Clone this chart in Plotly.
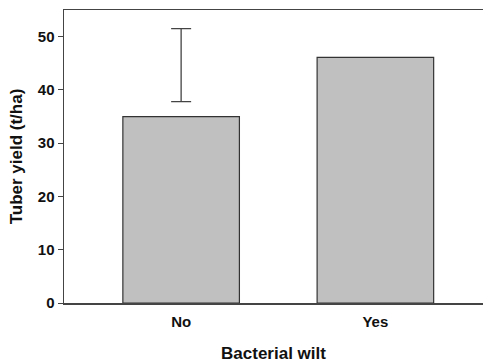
import plotly.graph_objects as go

categories = ["No", "Yes"]
yield_values = [35.0, 46.1]
err_low = [37.8]
err_high = [51.5]
err_cat = ["No"]
y_ticks = [0, 10, 20, 30, 40, 50]

FONT = "Liberation Sans, Arial, sans-serif"
AX = "#444444"

fig = go.Figure()
fig.add_trace(go.Bar(
    x=[0, 1], y=yield_values, width=0.6,
    marker=dict(color="#c0c0c0", line=dict(color="#333333", width=1.2)),
    showlegend=False, hoverinfo="skip",
))
mid = [(lo + hi) / 2 for lo, hi in zip(err_low, err_high)]
half = [(hi - lo) / 2 for lo, hi in zip(err_low, err_high)]
fig.add_trace(go.Scatter(
    x=[categories.index(c) for c in err_cat], y=mid, mode="markers",
    marker=dict(size=1, color="rgba(0,0,0,0)"),
    error_y=dict(type="data", array=half, symmetric=True, color=AX, thickness=1.3, width=10),
    showlegend=False, hoverinfo="skip",
))

fig.update_layout(
    width=484, height=363,
    margin=dict(l=63.5, r=1, t=9.5, b=60.3, autoexpand=False),
    plot_bgcolor="white", paper_bgcolor="white",
    font=dict(family=FONT, color="#111111"),
    bargap=0.4,
)
fig.update_xaxes(
    range=[-0.603, 1.554], tickvals=[0, 1], ticktext=categories,
    showline=True, linecolor=AX, linewidth=1.5, mirror=True,
    ticks="", ticklabelstandoff=4, showgrid=False, zeroline=False,
    tickfont=dict(family=FONT, size=15, weight="bold"),
    title=dict(text="<b>Bacterial wilt</b>", font=dict(family=FONT, size=17), standoff=19),
    automargin=False,
)
fig.update_yaxes(
    range=[0, 55], tickvals=y_ticks,
    showline=True, linecolor=AX, linewidth=1.5, mirror=False,
    ticks="outside", ticklen=5, tickcolor=AX, tickwidth=1,
    showgrid=False, zeroline=False,
    tickfont=dict(family=FONT, size=15, weight="bold"),
    title=dict(text="<b>Tuber yield (t/ha)</b>", font=dict(family=FONT, size=17), standoff=11),
    automargin=False,
)
fig.write_html(
    "out.html",
    config={"displayModeBar": False, "staticPlot": True},
    post_script="document.body.style.margin='0';document.body.style.overflow='hidden';",
)
